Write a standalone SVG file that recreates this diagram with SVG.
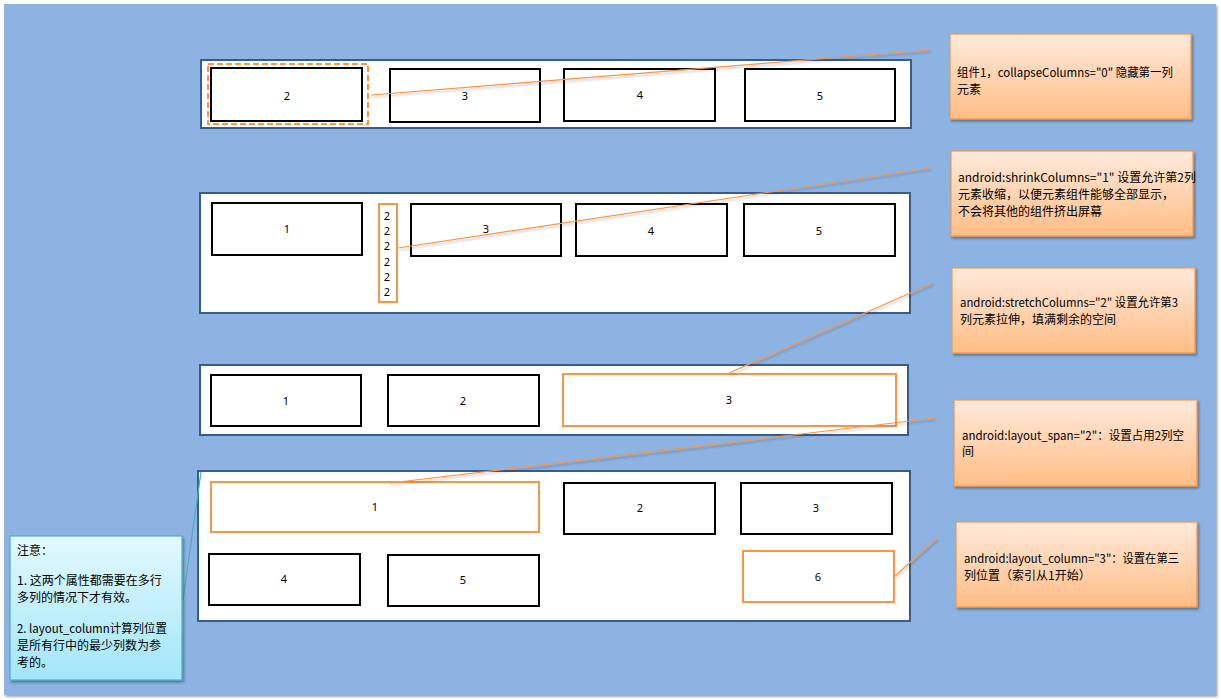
<svg xmlns="http://www.w3.org/2000/svg" width="1221" height="700" viewBox="0 0 1221 700">
<defs>
<linearGradient id="gOrange" x1="0" y1="0" x2="0" y2="1">
<stop offset="0" stop-color="#FFEADC"/>
<stop offset="1" stop-color="#FFBD85"/>
</linearGradient>
<linearGradient id="gCyan" x1="0" y1="0" x2="0" y2="1">
<stop offset="0" stop-color="#E3F9FE"/>
<stop offset="1" stop-color="#A2E6F8"/>
</linearGradient>
<filter id="sh" x="-10%" y="-10%" width="120%" height="130%">
<feDropShadow dx="1.5" dy="2" stdDeviation="1.2" flood-color="#000" flood-opacity="0.35"/>
</filter>
<filter id="lsh" x="-5%" y="-50%" width="110%" height="200%">
<feDropShadow dx="1" dy="2" stdDeviation="1" flood-color="#000" flood-opacity="0.25"/>
</filter>
</defs>
<style>
.cont{fill:#fff;stroke:#385D8A;stroke-width:2}
.box{fill:#fff;stroke:#000;stroke-width:2}
.obox{fill:#fff;stroke:#F79646;stroke-width:2}
.num{font-family:"Noto Sans","DejaVu Sans",sans-serif;font-size:11px;fill:#000;text-anchor:middle}
.call{fill:url(#gOrange);stroke:#F79646;stroke-width:1.2;filter:url(#sh)}
.note{fill:url(#gCyan);stroke:#4BACC6;stroke-width:1.2;filter:url(#sh)}
.ct{font-family:"Noto Sans CJK SC","Noto Sans",sans-serif;font-size:12px;fill:#000}
.ln{stroke:#F79646;stroke-width:1.2;fill:none;filter:url(#lsh)}
.tl{stroke:#4BACC6;stroke-width:1.2;fill:none}
</style>
<rect x="0" y="0" width="1221" height="700" fill="#fff"/>
<rect x="4" y="4" width="1212" height="691" fill="#8DB3E2" style="filter:url(#sh)"/>

<g id="row1">
<rect class="cont" x="201" y="60" width="710" height="68"/>
<rect x="208" y="64" width="160" height="60" fill="none" stroke="#F79646" stroke-width="2" stroke-dasharray="6,3"/>
<rect class="box" x="211" y="68" width="151" height="53"/>
<text class="num" x="287" y="100">2</text>
<rect class="box" x="390" y="69" width="150" height="53"/>
<text class="num" x="465" y="100">3</text>
<rect class="box" x="564" y="69" width="151" height="52"/>
<text class="num" x="640" y="99">4</text>
<rect class="box" x="745" y="69" width="150" height="52"/>
<text class="num" x="820" y="100">5</text>
</g>

<g id="row2">
<rect class="cont" x="200" y="193" width="710" height="120"/>
<rect class="box" x="212" y="203" width="150" height="52"/>
<text class="num" x="287" y="233">1</text>
<rect class="obox" x="379" y="204" width="18" height="98"/>
<text class="num" x="387" y="220">2</text>
<text class="num" x="387" y="235">2</text>
<text class="num" x="387" y="250">2</text>
<text class="num" x="387" y="266">2</text>
<text class="num" x="387" y="281">2</text>
<text class="num" x="387" y="296">2</text>
<rect class="box" x="411" y="204" width="150" height="52"/>
<text class="num" x="486" y="233">3</text>
<rect class="box" x="576" y="204" width="151" height="52"/>
<text class="num" x="651" y="235">4</text>
<rect class="box" x="744" y="204" width="151" height="52"/>
<text class="num" x="819" y="235">5</text>
</g>

<g id="row3">
<rect class="cont" x="200" y="365" width="708" height="70"/>
<rect class="box" x="211" y="375" width="150" height="51"/>
<text class="num" x="286" y="405">1</text>
<rect class="box" x="388" y="375" width="151" height="51"/>
<text class="num" x="463" y="405">2</text>
<rect class="obox" x="563" y="374" width="333" height="52"/>
<text class="num" x="729" y="404">3</text>
</g>

<g id="row4">
<rect class="cont" x="198" y="471" width="712" height="150"/>
<rect class="obox" x="211" y="482" width="328" height="50"/>
<text class="num" x="375" y="511">1</text>
<rect class="box" x="564" y="483" width="151" height="51"/>
<text class="num" x="640" y="512">2</text>
<rect class="box" x="741" y="483" width="151" height="51"/>
<text class="num" x="816" y="512">3</text>
<rect class="box" x="209" y="554" width="151" height="51"/>
<text class="num" x="284" y="583">4</text>
<rect class="box" x="388" y="555" width="151" height="51"/>
<text class="num" x="463" y="584">5</text>
<rect class="obox" x="743" y="551" width="151" height="51"/>
<text class="num" x="818" y="581">6</text>
</g>

<g id="connectors">
<line class="ln" x1="371" y1="95" x2="930" y2="50"/>
<line class="ln" x1="398" y1="248" x2="930" y2="168"/>
<line class="ln" x1="729" y1="373" x2="933" y2="283"/>
<line class="ln" x1="390" y1="483" x2="935" y2="418"/>
<line class="ln" x1="895" y1="576" x2="937" y2="538"/>
<line class="tl" x1="201" y1="472" x2="183" y2="600"/>
</g>

<g id="callout1">
<rect class="call" x="950" y="34" width="241" height="85"/>
<text class="ct" x="957" y="77" textLength="216" lengthAdjust="spacingAndGlyphs">组件1，collapseColumns="0" 隐藏第一列</text>
<text class="ct" x="957" y="94">元素</text>
</g>
<g id="callout2">
<rect class="call" x="951" y="151" width="242" height="85"/>
<text class="ct" x="958" y="182">android:shrinkColumns="1" 设置允许第2列</text>
<text class="ct" x="958" y="199">元素收缩，以便元素组件能够全部显示，</text>
<text class="ct" x="958" y="216">不会将其他的组件挤出屏幕</text>
</g>
<g id="callout3">
<rect class="call" x="952" y="268" width="243" height="85"/>
<text class="ct" x="960" y="307" textLength="218" lengthAdjust="spacingAndGlyphs">android:stretchColumns="2" 设置允许第3</text>
<text class="ct" x="960" y="324">列元素拉伸，填满剩余的空间</text>
</g>
<g id="callout4">
<rect class="call" x="954" y="400" width="243" height="86"/>
<text class="ct" x="962" y="440" textLength="222" lengthAdjust="spacingAndGlyphs">android:layout_span="2"：设置占用2列空</text>
<text class="ct" x="962" y="456">间</text>
</g>
<g id="callout5">
<rect class="call" x="956" y="522" width="241" height="85"/>
<text class="ct" x="964" y="563" textLength="215" lengthAdjust="spacingAndGlyphs">android:layout_column="3"：设置在第三</text>
<text class="ct" x="964" y="580">列位置（索引从1开始）</text>
</g>
<g id="note">
<rect class="note" x="10" y="536" width="172" height="144"/>
<text class="ct" x="17" y="555">注意：</text>
<text class="ct" x="17" y="585">1. 这两个属性都需要在多行</text>
<text class="ct" x="17" y="602">多列的情况下才有效。</text>
<text class="ct" x="17" y="633" textLength="150" lengthAdjust="spacingAndGlyphs">2. layout_column计算列位置</text>
<text class="ct" x="17" y="650">是所有行中的最少列数为参</text>
<text class="ct" x="17" y="667">考的。</text>
</g>
</svg>
